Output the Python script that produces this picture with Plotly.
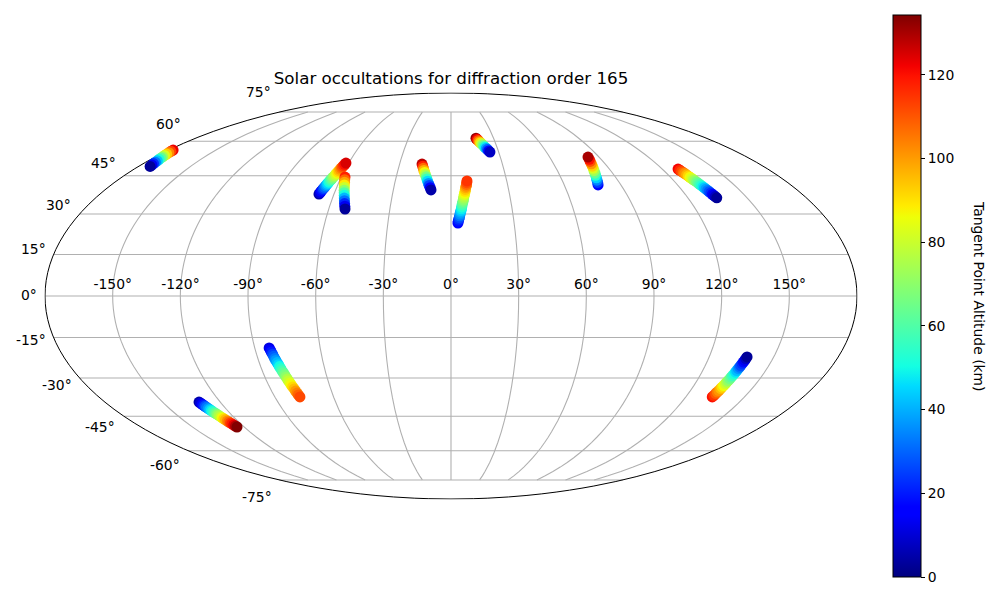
import plotly.graph_objects as go

# Figure drawn inside the page's 8 px body margin
W, H, OFF = 984, 584, 8

# Tracks: longitude, latitude, tangent altitude (km)
t1_lon = [-173.3,-173.6,-174.0,-174.3,-174.6,-175.0,-175.3,-175.6,-176.0,-176.3,-176.6,-177.0,-177.3]
t1_lat = [48.9,49.5,50.1,50.7,51.3,51.9,52.5,53.0,53.6,54.2,54.8,55.4,56.0]
t1_alt = [3,13,23,33,43,53,63,73,83,93,103,113,123]

t2_lon = [-67.7,-67.4,-67.2,-66.9,-66.7,-66.4,-66.2,-65.9,-65.7,-65.4,-65.2,-64.9,-64.7,-64.4,-64.1,-63.9,-63.6,-63.4,-63.1,-62.9,-62.6,-62.4,-62.1,-61.9,-61.6]
t2_lat = [37.7,38.2,38.8,39.3,39.8,40.3,40.9,41.4,41.9,42.4,43.0,43.5,44.0,44.5,45.0,45.6,46.1,46.6,47.1,47.7,48.2,48.7,49.2,49.8,50.3]
t2_alt = [5,10,15,20,25,30,35,40,45,50,55,60,65,70,75,80,85,90,95,100,105,110,115,120,125]

t3_lon = [-52.0,-52.5,-53.0,-53.5,-54.0,-54.5,-55.0,-55.5,-56.0,-56.5,-57.0,-57.5,-58.0]
t3_lat = [31.9,33.0,34.0,35.1,36.1,37.2,38.2,39.2,40.3,41.3,42.4,43.4,44.5]
t3_alt = [3,13,22,32,41,51,60,70,80,89,99,108,118]

t4_lon = [-10.4,-10.9,-11.5,-12.0,-12.6,-13.1,-13.6,-14.2,-14.7,-15.3,-15.8,-16.3,-16.9]
t4_lat = [39.3,40.2,41.1,41.9,42.8,43.7,44.6,45.5,46.4,47.2,48.1,49.0,49.9]
t4_alt = [5,15,26,36,46,56,66,77,87,97,107,118,128]

t5_lon = [24.5,23.9,23.4,22.8,22.2,21.6,21.1,20.5,19.9,19.3,18.8,18.2,17.6]
t5_lat = [55.1,55.6,56.2,56.7,57.2,57.7,58.3,58.8,59.3,59.8,60.4,60.9,61.4]
t5_alt = [8,18,29,39,49,60,70,80,91,101,111,122,132]

t6_lon = [3.3,3.5,3.7,4.0,4.2,4.4,4.6,4.9,5.1,5.3,5.5,5.7,6.0,6.2,6.4,6.6,6.8,7.1,7.3,7.5,7.7,8.0,8.2,8.4,8.6]
t6_lat = [26.6,27.3,28.0,28.6,29.3,30.0,30.7,31.3,32.0,32.7,33.4,34.1,34.8,35.4,36.1,36.8,37.5,38.1,38.8,39.5,40.2,40.8,41.5,42.2,42.9]
t6_alt = [15,19,23,27,32,36,40,44,48,52,57,61,65,69,73,77,82,86,90,94,98,102,107,111,115]

t7_lon = [77.9,78.4,78.8,79.3,79.7,80.2,80.6,81.1,81.5,82.0,82.4,82.9,83.3]
t7_lat = [41.3,42.3,43.2,44.2,45.2,46.1,47.1,48.1,49.0,50.0,51.0,51.9,52.9]
t7_alt = [15,25,34,44,53,63,73,82,92,101,111,120,130]

t8_lon = [134.6,134.4,134.1,133.9,133.7,133.4,133.2,132.9,132.7,132.5,132.3,132.0,131.8,131.6,131.3,131.1,130.9,130.6,130.4,130.2,129.9,129.7,129.5,129.2,129.0]
t8_lat = [36.2,36.7,37.2,37.6,38.1,38.6,39.1,39.6,40.1,40.5,41.0,41.5,42.0,42.5,43.0,43.4,43.9,44.4,44.9,45.4,45.9,46.3,46.8,47.3,47.8]
t8_alt = [3,8,13,18,23,28,33,38,43,48,53,58,63,67,72,77,82,87,92,97,102,107,112,117,122]

t9_lon = [137.6,137.4,137.3,137.1,136.9,136.7,136.6,136.4,136.2,136.1,135.9,135.7,135.6,135.4,135.2,135.0,134.9,134.7,134.5,134.4,134.2,134.0,133.8,133.7,133.5]
t9_lat = [-22.1,-22.7,-23.4,-24.0,-24.6,-25.3,-25.9,-26.5,-27.2,-27.8,-28.4,-29.1,-29.7,-30.3,-31.0,-31.6,-32.2,-32.9,-33.5,-34.1,-34.8,-35.4,-36.0,-36.7,-37.3]
t9_alt = [3,8,13,18,23,27,32,37,42,47,52,57,62,66,71,76,81,86,91,96,101,105,110,115,120]

t10_lon = [-83.4,-83.1,-82.9,-82.6,-82.4,-82.1,-81.9,-81.6,-81.3,-81.1,-80.8,-80.6,-80.3,-80.0,-79.8,-79.5,-79.3,-79.0,-78.8,-78.5,-78.2,-78.0,-77.7,-77.5,-77.2]
t10_lat = [-18.8,-19.6,-20.3,-21.1,-21.9,-22.7,-23.4,-24.2,-25.0,-25.7,-26.5,-27.3,-28.0,-28.8,-29.6,-30.4,-31.1,-31.9,-32.7,-33.4,-34.2,-35.0,-35.8,-36.5,-37.3]
t10_alt = [12,16,20,25,29,33,37,41,45,50,54,58,62,66,70,75,79,83,87,91,95,100,104,108,112]

t11_lon = [-131.0,-130.7,-130.4,-130.1,-129.9,-129.6,-129.3,-129.0,-128.7,-128.5,-128.2,-127.9,-127.6,-127.3,-127.0,-126.8,-126.5,-126.2,-125.9,-125.6,-125.3,-125.1,-124.8,-124.5,-124.2]
t11_lat = [-39.3,-39.7,-40.2,-40.6,-41.0,-41.4,-41.9,-42.3,-42.7,-43.1,-43.6,-44.0,-44.4,-44.8,-45.3,-45.7,-46.1,-46.5,-47.0,-47.4,-47.8,-48.2,-48.7,-49.1,-49.5]
t11_alt = [5,10,16,21,27,32,37,43,48,53,59,64,70,75,80,86,91,96,102,107,113,118,123,129,134]

tracks = [
    (t1_lon, t1_lat, t1_alt), (t2_lon, t2_lat, t2_alt), (t3_lon, t3_lat, t3_alt),
    (t4_lon, t4_lat, t4_alt), (t5_lon, t5_lat, t5_alt), (t6_lon, t6_lat, t6_alt),
    (t7_lon, t7_lat, t7_alt), (t8_lon, t8_lat, t8_alt), (t9_lon, t9_lat, t9_alt),
    (t10_lon, t10_lat, t10_alt), (t11_lon, t11_lat, t11_alt),
]
# tracks whose low-altitude end is painted on top (index into tracks)
low_on_top = {0, 2, 3, 4, 7, 8}

lon_ticks = [-150, -120, -90, -60, -30, 0, 30, 60, 90, 120, 150]
lat_ticks = [75, 60, 45, 30, 15, 0, -15, -30, -45, -60, -75]
# right edge and vertical middle of each latitude label, in page pixels
lat_label_px = [(272, 92), (182, 124), (117, 163), (72, 205), (47, 249), (38, 295),
                (47, 340), (73, 385), (116, 427), (181, 465), (273, 497)]

ALT_MIN, ALT_MAX = 0, 134.3
JET = [
    [0.0, "rgb(0,0,127)"], [0.11, "rgb(0,0,255)"], [0.125, "rgb(0,0,255)"],
    [0.34, "rgb(0,219,255)"], [0.375, "rgb(20,255,226)"], [0.64, "rgb(238,255,8)"],
    [0.66, "rgb(255,236,0)"], [0.89, "rgb(255,19,0)"], [0.91, "rgb(243,0,0)"],
    [1.0, "rgb(127,0,0)"],
]
GRID = "#b0b0b0"
FONT = "DejaVu Sans"
TICK = dict(family=FONT, size=13.9, color="black")


def fx(px):
    return (px - OFF) / W


def fy(py):
    return 1 - (py - OFF) / H


fig = go.Figure()

# meridians stop at +/-75 degrees
for lon in lon_ticks:
    fig.add_trace(go.Scattergeo(lon=[lon, lon], lat=[-75, 75], mode="lines",
                                line=dict(color=GRID, width=1.1),
                                hoverinfo="skip", showlegend=False))

for i, (lon, lat, alt) in enumerate(tracks):
    step = -1 if i in low_on_top else 1
    fig.add_trace(go.Scattergeo(
        lon=lon[::step], lat=lat[::step], mode="markers", showlegend=False,
        marker=dict(
            size=11, color=alt[::step], cmin=ALT_MIN, cmax=ALT_MAX, colorscale=JET,
            line=dict(width=0), opacity=1,
            showscale=(i == 0),
            colorbar=dict(
                x=fx(893), xanchor="left", y=fy(577), yanchor="bottom",
                thickness=28, thicknessmode="pixels", len=562 / H, lenmode="fraction",
                xpad=0, ypad=0, outlinecolor="black", outlinewidth=1,
                ticks="outside", ticklen=4, tickcolor="black", tickwidth=1,
                tick0=0, dtick=20, tickfont=TICK,
            ),
        ),
    ))

# longitude labels sit just above the equator
fig.add_trace(go.Scattergeo(
    lon=lon_ticks, lat=[1.2] * len(lon_ticks), mode="text",
    text=[f"{v}°" for v in lon_ticks], textposition="top center",
    textfont=TICK, hoverinfo="skip", showlegend=False,
))

annotations = [
    dict(text=f"{v}°", x=fx(px), y=fy(py), xref="paper", yref="paper",
         xanchor="right", yanchor="middle", showarrow=False, font=TICK, borderpad=0)
    for v, (px, py) in zip(lat_ticks, lat_label_px)
]
annotations.append(dict(
    text="Tangent Point Altitude (km)", x=fx(979), y=fy(296), xref="paper", yref="paper",
    xanchor="center", yanchor="middle", showarrow=False, textangle=90, font=TICK,
))

fig.update_layout(
    width=W, height=H, paper_bgcolor="white",
    margin=dict(l=0, r=0, t=0, b=0),
    title=dict(text="Solar occultations for diffraction order 165",
               x=fx(451), xanchor="center", y=fy(78), yanchor="middle",
               font=dict(family=FONT, size=16.7, color="black")),
    annotations=annotations,
    geo=dict(
        domain=dict(x=[fx(45), fx(857)], y=[fy(499), fy(93)]),
        projection=dict(type="mollweide"),
        bgcolor="white",
        showframe=True, framecolor="black", framewidth=1,
        showcoastlines=False, showland=False, showocean=False,
        showlakes=False, showrivers=False, showcountries=False, showsubunits=False,
        lonaxis=dict(showgrid=False, range=[-180, 180]),
        lataxis=dict(showgrid=True, gridcolor=GRID, gridwidth=1.1, dtick=15, tick0=0,
                     range=[-90, 90]),
    ),
)

fig.write_html("out.html")
